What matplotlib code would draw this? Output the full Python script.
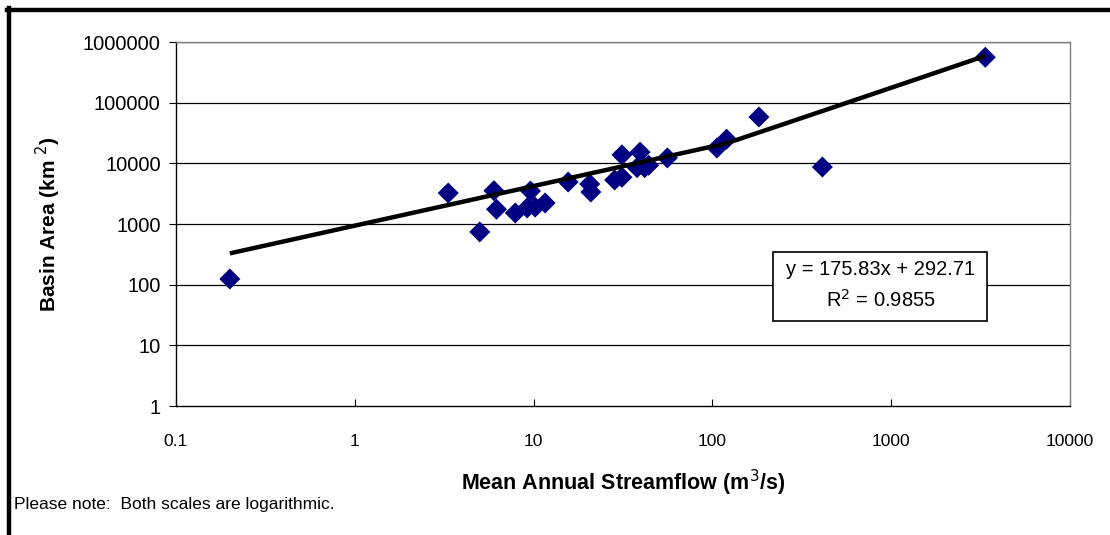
import matplotlib
matplotlib.use("Agg")
import matplotlib.pyplot as plt
import numpy as np
from matplotlib.patches import Rectangle

plt.rcParams['font.family'] = ['Liberation Sans', 'DejaVu Sans']

# mean annual streamflow (m3/s) and basin area (km2)
streamflow = [0.2, 3.33, 5.0, 6.0, 6.2, 7.9, 9.2, 9.6, 10.2, 11.6,
              15.6, 20.6, 20.9, 28.4, 31.2, 31.2, 39.4, 37.9, 41.8, 44.0,
              56.0, 106, 120, 182, 412, 3360]
basin_area = [124, 3240, 740, 3540, 1750, 1520, 1840, 3500, 1900, 2220,
              4920, 4560, 3370, 5320, 5900, 13800, 15300, 8500, 8500, 9300,
              12300, 17900, 25000, 58000, 8700, 560000]

# linear trend fitted to the data
slope = 175.83
intercept = 292.71
r_squared = 0.9855

x_ticks = [0.1, 1, 10, 100, 1000, 10000]
x_tick_labels = ['0.1', '1', '10', '100', '1000', '10000']
y_ticks = [1, 10, 100, 1000, 10000, 100000, 1000000]
y_tick_labels = ['1', '10', '100', '1000', '10000', '100000', '1000000']

fig = plt.figure(figsize=(11.10, 5.35), dpi=100)
ax = fig.add_axes([176 / 1110, 1 - 406 / 535, 894 / 1110, 364 / 535])

ax.set_xscale('log')
ax.set_yscale('log')
ax.set_xlim(0.1, 10000)
ax.set_ylim(1, 1000000)

for yv in y_ticks[1:]:
    ax.axhline(yv, color='black', lw=0.9, zorder=1)

ax.scatter(streamflow, basin_area, marker='D', s=115, color='#000080',
           edgecolors='none', zorder=3)

# trend evaluated at evenly spaced flows, joined by straight segments
xs = np.linspace(min(streamflow), max(streamflow), 29)
ax.plot(xs, slope * xs + intercept, color='black', lw=3.2,
        solid_joinstyle='round', solid_capstyle='butt', zorder=4)

ax.set_xticks(x_ticks)
ax.set_xticklabels(x_tick_labels)
ax.set_yticks(y_ticks)
ax.set_yticklabels(y_tick_labels)
ax.minorticks_off()
ax.tick_params(axis='x', direction='in', length=5, width=0.8,
               labelsize=12.5, pad=20)
ax.tick_params(axis='y', direction='out', length=5, width=0.8,
               labelsize=14.5, pad=6)

ax.spines['left'].set_color('black')
ax.spines['bottom'].set_color('black')
ax.spines['top'].set_color('#808080')
ax.spines['right'].set_color('#808080')
for sp in ax.spines.values():
    sp.set_linewidth(1.0)

ax.set_xlabel('Mean Annual Streamflow (m$^{3}$/s)', fontsize=15.5,
              fontweight='bold', labelpad=14)
ax.set_ylabel('Basin Area (km $^{2}$)', fontsize=15, fontweight='bold',
              labelpad=14)

# equation box
ax.add_patch(Rectangle((0.668, 0.234), 0.239, 0.189, transform=ax.transAxes,
                       facecolor='white', edgecolor='black', lw=1.2, zorder=5))
ax.text(0.788, 0.374, f'y = {slope:.2f}x + {intercept:.2f}',
        transform=ax.transAxes, ha='center', va='center', fontsize=14.5,
        zorder=6)
ax.text(0.788, 0.291, f'R$^{{2}}$ = {r_squared}', transform=ax.transAxes,
        ha='center', va='center', fontsize=14.5, zorder=6)

fig.text(14 / 1110, 1 - 505 / 535, 'Please note:  Both scales are logarithmic.',
         ha='left', va='center', fontsize=12.5)

# outer chart frame
fig.add_artist(plt.Line2D([9 / 1110, 9 / 1110], [0, 1 - 8 / 535],
                          transform=fig.transFigure, color='black', lw=3.2))
fig.add_artist(plt.Line2D([7 / 1110, 1], [1 - 10 / 535, 1 - 10 / 535],
                          transform=fig.transFigure, color='black', lw=3.2))

fig.savefig('out.png', dpi=100)
